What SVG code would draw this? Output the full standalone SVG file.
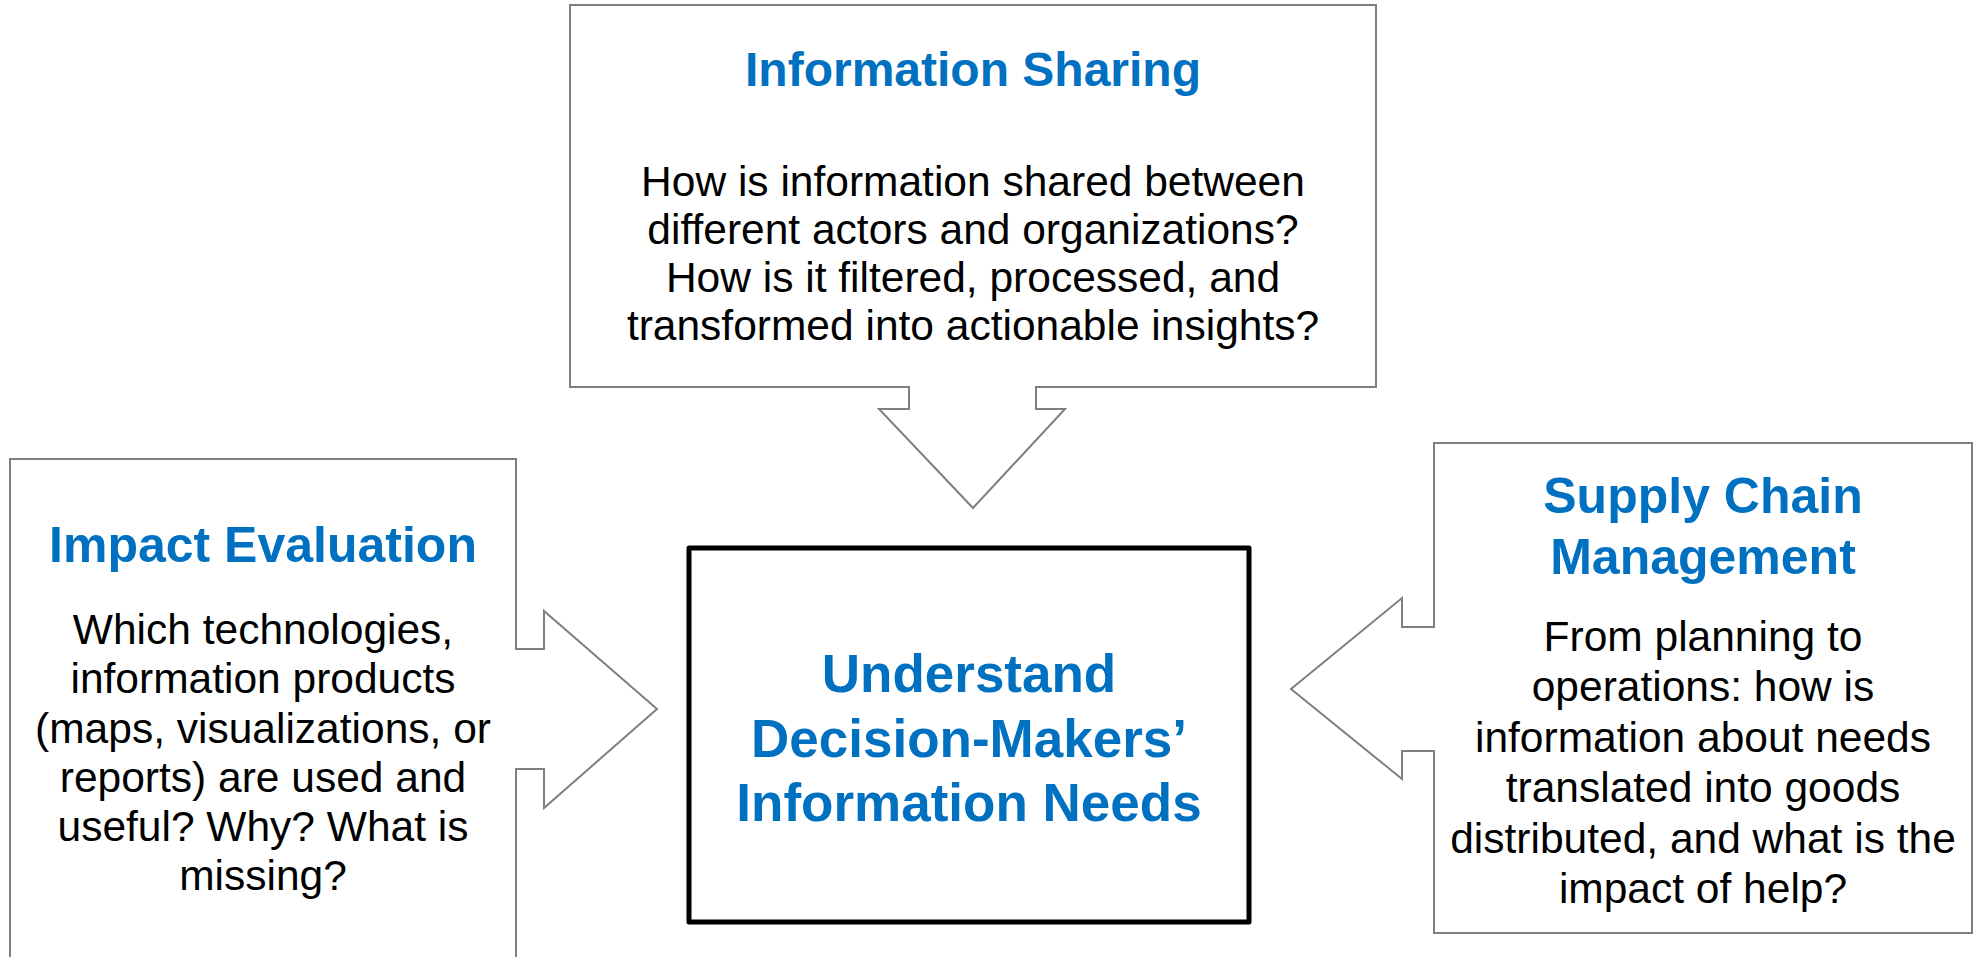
<svg xmlns="http://www.w3.org/2000/svg" width="1985" height="957" viewBox="0 0 1985 957">
<style>
.callout{fill:#fff;stroke:#7f7f7f;stroke-width:2;stroke-linejoin:miter}
.center{fill:#fff;stroke:#000;stroke-width:5;stroke-linejoin:round}
.title{font-family:"Liberation Sans",Arial,sans-serif;font-weight:bold;fill:#0070C0;text-anchor:middle}
.body{font-family:"Liberation Sans",Arial,sans-serif;fill:#000;text-anchor:middle;font-size:42.5px}
</style>
<rect width="1985" height="957" fill="#fff"/>
<g id="connectors"></g>
<g id="node-info-sharing">
<path class="callout" d="M570,5 H1376 V387 H1036 V409 H1065 L973,508 L879,409 H909 V387 H570 Z"/>
<text class="title" x="973" y="86" font-size="48">Information Sharing</text>
<text class="body" x="973" y="196">How is information shared between</text>
<text class="body" x="973" y="244">different actors and organizations?</text>
<text class="body" x="973" y="292">How is it filtered, processed, and</text>
<text class="body" x="973" y="340">transformed into actionable insights?</text>
</g>
<g id="node-impact">
<path class="callout" d="M10,459 H516 V649 H544 V611 L657,709 L544,808 V769 H516 V962 H10 Z"/>
<text class="title" x="263" y="562" font-size="50">Impact Evaluation</text>
<text class="body" x="263" y="644">Which technologies,</text>
<text class="body" x="263" y="693">information products</text>
<text class="body" x="263" y="743">(maps, visualizations, or</text>
<text class="body" x="263" y="792">reports) are used and</text>
<text class="body" x="263" y="841">useful? Why? What is</text>
<text class="body" x="263" y="890">missing?</text>
</g>
<g id="node-supply">
<path class="callout" d="M1434,443 H1972 V933 H1434 V751 H1402 V779 L1291,689 L1402,598 V627 H1434 Z"/>
<text class="title" x="1703" y="513" font-size="50">Supply Chain</text>
<text class="title" x="1703" y="574" font-size="50">Management</text>
<text class="body" x="1703" y="651">From planning to</text>
<text class="body" x="1703" y="701">operations: how is</text>
<text class="body" x="1703" y="752">information about needs</text>
<text class="body" x="1703" y="802">translated into goods</text>
<text class="body" x="1703" y="853">distributed, and what is the</text>
<text class="body" x="1703" y="903">impact of help?</text>
</g>
<g id="node-center">
<rect class="center" x="689" y="548" width="560" height="374"/>
<text class="title" x="969" y="692" font-size="53">Understand</text>
<text class="title" x="969" y="757" font-size="53">Decision-Makers’</text>
<text class="title" x="969" y="821" font-size="53">Information Needs</text>
</g>
</svg>
